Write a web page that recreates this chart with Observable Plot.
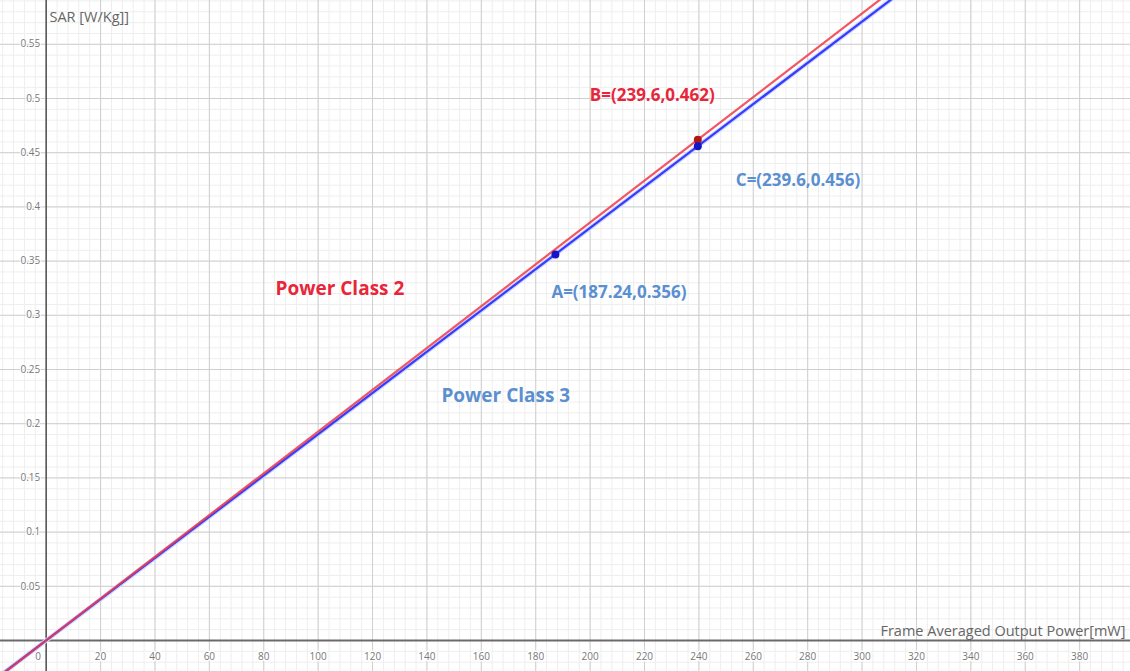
<!DOCTYPE html>
<html><head><meta charset="utf-8">
<script src="https://cdn.jsdelivr.net/npm/d3@7"></script>
<script src="https://cdn.jsdelivr.net/npm/@observablehq/plot@0.6"></script>
<style>body{margin:0;background:#fff;overflow:hidden}</style>
</head><body><div id="chart"></div>
<script>
// ---- data ----
const xTickValues = [0,20,40,60,80,100,120,140,160,180,200,220,240,260,280,300,320,340,360,380];
const xTickLabels = ["0","20","40","60","80","100","120","140","160","180","200","220","240","260","280","300","320","340","360","380"];
const yTickValues = [0.05,0.1,0.15,0.2,0.25,0.3,0.35,0.4,0.45,0.5,0.55];
const yTickLabels = ["0.05","0.1","0.15","0.2","0.25","0.3","0.35","0.4","0.45","0.5","0.55"];
const pointNames = ["A","B","C"];
const pointX = [187.24, 239.6, 239.6];
const pointY = [0.356, 0.462, 0.456];
const pointLabels = ["A=(187.24,0.356)","B=(239.6,0.462)","C=(239.6,0.456)"];
const classNames = ["Power Class 2","Power Class 3"];
const classThroughPoint = ["B","C"];       // each class line passes through origin and this point
const classLabelX = [108, 169];
const classLabelY = [0.324, 0.226];
const xTitle = "Frame Averaged Output Power[mW]";
const yTitle = "SAR [W/Kg]]";

// ---- build ----
const xDomain = [-16.8, 398.7];
const yDomain = [-0.0286, 0.5904];
const pts = pointNames.map((n,i)=>({name:n, x:pointX[i], y:pointY[i], label:pointLabels[i]}));
const byName = Object.fromEntries(pts.map(p=>[p.name,p]));
const lineData = [];
classNames.forEach((c,i)=>{
  const p = byName[classThroughPoint[i]];
  const slope = p.y / p.x;
  for (const x of [xDomain[0]-5, 0, p.x, xDomain[1]+5]) lineData.push({cls:c, x, y: slope*x});
});
const classColors = {"Power Class 2":"#f03a48","Power Class 3":"#3a3aff"};
const classText = classNames.map((c,i)=>({cls:c, x:classLabelX[i], y:classLabelY[i]}));
const xTicks = xTickValues.map((v,i)=>({v, label:xTickLabels[i]}));
const yTicks = yTickValues.map((v,i)=>({v, label:yTickLabels[i]}));
const minorX = d3.range(-16, 400, 4);
const minorY = d3.range(-0.02, 0.6, 0.01);
const majorX = d3.range(-20, 400, 20);
const majorY = d3.range(0, 0.6, 0.05);

const font = "'Open Sans', 'Noto Sans', sans-serif";
const labelOffsets = {A:{dx:-4,dy:38,fill:"#5b8fcf"}, B:{dx:-108,dy:-44,fill:"#e8263a"}, C:{dx:38,dy:34,fill:"#5b8fcf"}};
const pointColors = {A:"#1515c8", B:"#b01818", C:"#1515c8"};
const tickStyle = {fill:"#777", fontSize:10, stroke:"white", strokeWidth:3, paintOrder:"stroke"};

const chart = Plot.plot({
  width: 1130, height: 671,
  margin: 0,
  style: {fontFamily: font, background: "#fff"},
  x: {domain: xDomain, axis: null},
  y: {domain: yDomain, axis: null},
  marks: [
    Plot.ruleX(minorX, {stroke:"#eeeeee", strokeWidth:1}),
    Plot.ruleY(minorY, {stroke:"#eeeeee", strokeWidth:1}),
    Plot.ruleX(majorX, {stroke:"#cfcfcf", strokeWidth:1}),
    Plot.ruleY(majorY, {stroke:"#cfcfcf", strokeWidth:1}),
    Plot.ruleX([0], {stroke:"#5a5a5a", strokeWidth:1.6}),
    Plot.ruleY([0], {stroke:"#6a6a6a", strokeWidth:2.2}),
    // tick labels
    Plot.text(xTicks.filter(d=>d.v!==0), {x:"v", y:0, text:"label", dy:16, ...tickStyle}),
    Plot.text(xTicks.filter(d=>d.v===0), {x:"v", y:0, text:"label", dy:16, dx:-8, ...tickStyle}),
    Plot.text(yTicks, {x:0, y:"v", text:"label", dx:-6, textAnchor:"end", ...tickStyle, strokeWidth:2}),
    // axis titles
    Plot.text([yTitle], {frameAnchor:"top-left", dx:49, dy:11, textAnchor:"start", fill:"#666", fontSize:14.5, letterSpacing:"0.3px"}),
    Plot.text([xTitle], {x:xDomain[1], y:0, dx:-5, dy:-9, textAnchor:"end", fill:"#666", fontSize:14.5, letterSpacing:"0.3px"}),
    // class lines
    Plot.line(lineData.filter(d=>d.cls==="Power Class 3"), {x:"x", y:"y", stroke:"#c9d8ff", strokeWidth:4.5, clip:true}),
    Plot.line(lineData.filter(d=>d.cls==="Power Class 3"), {x:"x", y:"y", stroke:classColors["Power Class 3"], strokeWidth:2.2, clip:true}),
    Plot.line(lineData.filter(d=>d.cls==="Power Class 2"), {x:"x", y:"y", stroke:classColors["Power Class 2"], strokeWidth:2.2, strokeOpacity:0.85, clip:true}),
    // points
    Plot.dot(pts, {x:"x", y:"y", r:4, fill:d=>pointColors[d.name], stroke:"none"}),
    // point labels
    ...pts.map(p=>Plot.text([p], {x:"x", y:"y", text:"label", dx:labelOffsets[p.name].dx, dy:labelOffsets[p.name].dy, textAnchor:"start", fill:labelOffsets[p.name].fill, fontSize:17, fontWeight:"bold", letterSpacing:"0.6px"})),
    // class labels
    Plot.text(classText, {x:"x", y:"y", text:"cls", fill:d=>d.cls==="Power Class 2"?"#e8263a":"#5b8fcf", fontSize:19, fontWeight:"bold"})
  ]
});
document.getElementById("chart").appendChild(chart);
</script>
</body></html>
